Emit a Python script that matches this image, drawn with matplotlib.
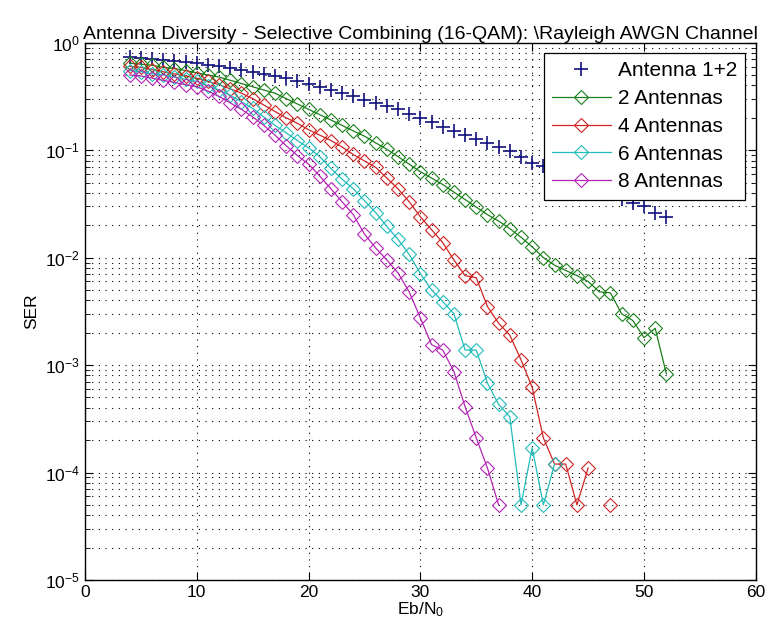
import numpy as np
import matplotlib
matplotlib.use('Agg')
import matplotlib.pyplot as plt
from matplotlib.ticker import LogLocator, FixedLocator, NullFormatter

plt.rcParams['font.family'] = ['Liberation Sans', 'DejaVu Sans']
plt.rcParams['mathtext.default'] = 'regular'

# --- dados ---
ebn0 = np.arange(4, 53)

ser_ant12 = [0.741, 0.724, 0.708, 0.692, 0.676, 0.661, 0.646, 0.624, 0.603, 0.582,
             0.562, 0.537, 0.513, 0.490, 0.468, 0.442, 0.417, 0.389, 0.363, 0.339,
             0.316, 0.295, 0.275, 0.257, 0.240, 0.219, 0.200, 0.182, 0.166, 0.151,
             0.138, 0.126, 0.117, 0.107, 0.098, 0.087, 0.076, 0.071, 0.065, 0.059,
             0.054, 0.049, 0.044, 0.040, 0.035, 0.032, 0.030, 0.026, 0.024]

ser_2ant = [0.646, 0.631, 0.617, 0.589, 0.575, 0.550, 0.525, 0.501, 0.479, 0.447,
            0.417, 0.389, 0.363, 0.339, 0.302, 0.269, 0.240, 0.214, 0.191, 0.170,
            0.151, 0.135, 0.117, 0.102, 0.0871, 0.0741, 0.0631, 0.0550, 0.0479, 0.0407,
            0.0347, 0.0295, 0.0251, 0.0219, 0.0186, 0.0155, 0.0126, 0.0100, 0.0085, 0.0076,
            0.0068, 0.0060, 0.0048, 0.0047, 0.0030, 0.0026, 0.0018, 0.0022, 0.00083]

ser_4ant = [0.603, 0.589, 0.562, 0.537, 0.513, 0.490, 0.468, 0.437, 0.407, 0.372,
            0.339, 0.302, 0.263, 0.229, 0.200, 0.178, 0.155, 0.138, 0.123, 0.107,
            0.0912, 0.0794, 0.0692, 0.0550, 0.0437, 0.0331, 0.0240, 0.0182, 0.0138, 0.0095,
            0.0068, 0.0065, 0.0035, 0.00245, 0.0019, 0.00112, 0.00062, 0.00021, 0.00012, 0.00012,
            5e-5, 1.1e-4, np.nan, 5e-5]

ser_6ant = [0.550, 0.537, 0.513, 0.501, 0.479, 0.457, 0.437, 0.398, 0.363, 0.324,
            0.282, 0.245, 0.204, 0.170, 0.145, 0.123, 0.105, 0.0871, 0.0676, 0.0537,
            0.0437, 0.0339, 0.0263, 0.0195, 0.0148, 0.0107, 0.0071, 0.0050, 0.0039, 0.0030,
            0.00138, 0.00138, 0.00068, 0.00043, 0.00033, 5e-5, 1.7e-4, 5e-5, 1.2e-4]

ser_8ant = [0.501, 0.490, 0.468, 0.447, 0.427, 0.407, 0.389, 0.355, 0.316, 0.275,
            0.240, 0.204, 0.170, 0.138, 0.110, 0.0891, 0.0741, 0.0575, 0.0437, 0.0331,
            0.0251, 0.0166, 0.0123, 0.0095, 0.0072, 0.0048, 0.00275, 0.00155, 0.00138, 0.00087,
            0.00041, 0.00021, 0.00011, 5e-5]

labels = ['Antenna 1+2', '2 Antennas', '4 Antennas', '6 Antennas', '8 Antennas']
colors = ['#10107e', '#1a801a', '#d02424', '#22bcbc', '#b424b4']

# --- figura ---
fig = plt.figure(figsize=(7.65, 6.19), dpi=100)
ax = fig.add_axes([0.111, 0.063, 0.877, 0.868])

ax.semilogy(ebn0, ser_ant12, linestyle='none', marker='+', markersize=10,
            markeredgewidth=1.2, color=colors[0], label=labels[0])
for ser, cor, lab in zip([ser_2ant, ser_4ant, ser_6ant, ser_8ant], colors[1:], labels[1:]):
    ax.semilogy(ebn0[:len(ser)], ser, '-', marker='D', markersize=7,
                markerfacecolor='none', markeredgewidth=0.8, linewidth=0.9,
                color=cor, label=lab)

ax.set_xlim(0, 60)
ax.set_ylim(1e-5, 1)
ax.xaxis.set_major_locator(FixedLocator([0, 10, 20, 30, 40, 50, 60]))
ax.yaxis.set_major_locator(LogLocator(base=10, numticks=10))
ax.yaxis.set_minor_locator(LogLocator(base=10, subs=np.arange(2, 10), numticks=20))
ax.yaxis.set_minor_formatter(NullFormatter())

grid_ls = (0, (1, 5))
ax.grid(True, which='major', color='black', linestyle=grid_ls, linewidth=0.8)
ax.grid(True, which='minor', axis='y', color='black', linestyle=grid_ls, linewidth=0.8)

ax.tick_params(which='both', direction='in', top=True, right=True, labelsize=12.5)
ax.tick_params(which='major', length=6)
ax.tick_params(which='minor', length=3.5)
for s in ax.spines.values():
    s.set_linewidth(1.0)

ax.set_xlabel('Eb/N$_0$', fontsize=12.5, labelpad=0)
ax.set_ylabel('SER', fontsize=12.5, labelpad=4)
ax.set_title('Antenna Diversity - Selective Combining (16-QAM): \\Rayleigh AWGN Channel',
             fontsize=14, pad=3)

leg = ax.legend(loc='upper right', fontsize=15, fancybox=False, framealpha=1,
                edgecolor='black', borderaxespad=0.5, handlelength=2.8,
                handletextpad=0.35, labelspacing=0.42, borderpad=0.4)
leg.get_frame().set_linewidth(0.9)

fig.savefig('out.png', dpi=100)
